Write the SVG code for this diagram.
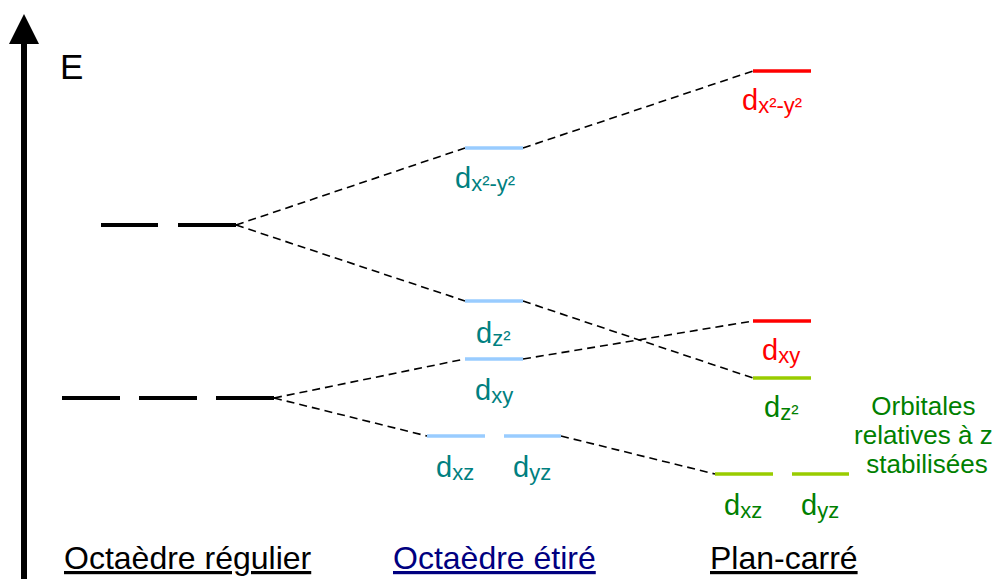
<svg xmlns="http://www.w3.org/2000/svg" width="1001" height="579" viewBox="0 0 1001 579">
  <style>
    text { font-family: "Liberation Sans", Arial, sans-serif; }
    .lvl-oct { stroke: #000000; stroke-width: 4; }
    .lvl-et { stroke: #99CCFF; stroke-width: 3.5; }
    .lvl-red { stroke: #FF0000; stroke-width: 3.5; }
    .lvl-grn { stroke: #99CC00; stroke-width: 3.5; }
    .conn { stroke: #000000; stroke-width: 1.6; stroke-dasharray: 8 5; fill: none; }
    .lbl { font-size: 29px; }
    .sub { font-size: 22px; }
    .teal { fill: #008080; }
    .red { fill: #FF0000; }
    .grn { fill: #008000; }
    .title { font-size: 32px; text-decoration: underline; }
  </style>
  <rect width="1001" height="579" fill="#ffffff"/>

  <!-- energy axis -->
  <g id="axis">
    <line x1="24" y1="579" x2="24" y2="40" stroke="#000" stroke-width="6"/>
    <path d="M9,44 L24,14 L39,44 Z" fill="#000"/>
    <text x="60" y="79" font-size="35">E</text>
  </g>

  <!-- connectors -->
  <g id="connectors">
    <line class="conn" x1="236" y1="225" x2="465" y2="148"/>
    <line class="conn" x1="236" y1="225" x2="465" y2="301"/>
    <line class="conn" x1="523" y1="148" x2="753" y2="71"/>
    <line class="conn" x1="523" y1="301" x2="753" y2="378"/>
    <line class="conn" x1="274" y1="398" x2="465" y2="359"/>
    <line class="conn" x1="274" y1="398" x2="427" y2="436"/>
    <line class="conn" x1="523" y1="359" x2="753" y2="321"/>
    <line class="conn" x1="561" y1="436" x2="715" y2="474"/>
  </g>

  <!-- regular octahedron levels -->
  <g id="oct-eg">
    <line class="lvl-oct" x1="101" y1="225" x2="158" y2="225"/>
    <line class="lvl-oct" x1="178" y1="225" x2="236" y2="225"/>
  </g>
  <g id="oct-t2g">
    <line class="lvl-oct" x1="62" y1="398" x2="120" y2="398"/>
    <line class="lvl-oct" x1="139" y1="398" x2="197" y2="398"/>
    <line class="lvl-oct" x1="216" y1="398" x2="274" y2="398"/>
  </g>

  <!-- elongated octahedron levels -->
  <g id="et-dx2y2">
    <line class="lvl-et" x1="465" y1="148" x2="523" y2="148"/>
    <text class="lbl teal" x="455" y="188">d<tspan class="sub" dy="3">x²-y²</tspan></text>
  </g>
  <g id="et-dz2">
    <line class="lvl-et" x1="465" y1="301" x2="523" y2="301"/>
    <text class="lbl teal" x="476" y="343">d<tspan class="sub" dy="3">z²</tspan></text>
  </g>
  <g id="et-dxy">
    <line class="lvl-et" x1="465" y1="359" x2="523" y2="359"/>
    <text class="lbl teal" x="475" y="400">d<tspan class="sub" dy="3">xy</tspan></text>
  </g>
  <g id="et-dxz">
    <line class="lvl-et" x1="427" y1="436" x2="485" y2="436"/>
    <text class="lbl teal" x="436" y="477">d<tspan class="sub" dy="3">xz</tspan></text>
  </g>
  <g id="et-dyz">
    <line class="lvl-et" x1="504" y1="436" x2="561" y2="436"/>
    <text class="lbl teal" x="513" y="477">d<tspan class="sub" dy="3">yz</tspan></text>
  </g>

  <!-- square planar levels -->
  <g id="sp-dx2y2">
    <line class="lvl-red" x1="753" y1="71" x2="811" y2="71"/>
    <text class="lbl red" x="742" y="110">d<tspan class="sub" dy="3">x²-y²</tspan></text>
  </g>
  <g id="sp-dxy">
    <line class="lvl-red" x1="753" y1="321" x2="811" y2="321"/>
    <text class="lbl red" x="762" y="360">d<tspan class="sub" dy="3">xy</tspan></text>
  </g>
  <g id="sp-dz2">
    <line class="lvl-grn" x1="753" y1="378" x2="811" y2="378"/>
    <text class="lbl grn" x="764" y="417">d<tspan class="sub" dy="3">z²</tspan></text>
  </g>
  <g id="sp-dxz">
    <line class="lvl-grn" x1="715" y1="474" x2="773" y2="474"/>
    <text class="lbl grn" x="724" y="515">d<tspan class="sub" dy="3">xz</tspan></text>
  </g>
  <g id="sp-dyz">
    <line class="lvl-grn" x1="792" y1="474" x2="849" y2="474"/>
    <text class="lbl grn" x="801" y="515">d<tspan class="sub" dy="3">yz</tspan></text>
  </g>

  <!-- side note -->
  <g id="note">
    <text class="grn" font-size="26" text-anchor="middle">
      <tspan x="927" y="415">Orbitales</tspan>
      <tspan x="927" y="444">relatives à z</tspan>
      <tspan x="927" y="473">stabilisées</tspan>
    </text>
  </g>

  <!-- column titles -->
  <g id="titles">
    <text class="title" x="64" y="569" fill="#000000">Octaèdre régulier</text>
    <text class="title" x="393" y="569" fill="#000080">Octaèdre étiré</text>
    <text class="title" x="710" y="569" fill="#000000">Plan-carré</text>
  </g>
</svg>
